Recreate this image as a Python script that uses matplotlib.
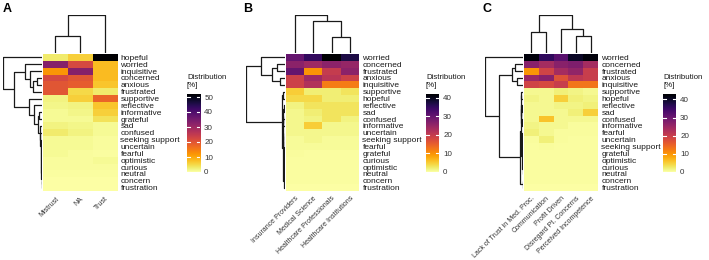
import numpy as np
import matplotlib
matplotlib.use("Agg")
import matplotlib.pyplot as plt

plt.rcParams['font.family'] = ['Liberation Sans', 'DejaVu Sans']

W, H = 709, 260

# ---------------- data ----------------
rows_A = ["hopeful", "worried", "inquisitive", "concerned", "anxious", "frustrated",
          "supportive", "reflective", "informative", "grateful", "sad", "confused",
          "seeking support", "uncertain", "fearful", "optimistic", "curious", "neutral",
          "concern", "frustration"]
cols_A = ["Mistrust", "NA", "Trust"]
vals_A = [
    [3, 6, 52], [33, 22, 8], [12, 33, 8], [22, 20, 8], [20, 19, 7], [20, 5, 3],
    [2, 6, 18], [1.5, 2, 7], [1, 1.5, 6], [1, 1, 4], [2, 1.5, 1], [3, 2, 1],
    [1, 1, 0.5], [1, 1, 0.5], [1, 0.5, 0.3], [0.5, 0.5, 1], [0.5, 0.5, 0.5],
    [0.3, 0.3, 0.3], [0.2, 0.2, 0.2], [0.2, 0.2, 0.1]]

rows_B = ["worried", "concerned", "frustrated", "anxious", "inquisitive", "supportive",
          "hopeful", "reflective", "sad", "confused", "informative", "uncertain",
          "seeking support", "fearful", "grateful", "curious", "optimistic", "neutral",
          "concern", "frustration"]
cols_B = ["Insurance Providers", "Medical Science", "Healthcare Professionals",
          "Healthcare Institutions"]
vals_B = [
    [30, 35, 42, 37], [26, 24, 26, 25], [30, 10, 20, 26], [19, 24, 21, 19],
    [19, 22, 12, 12], [5, 2, 2, 3], [4, 4, 2, 2], [1.5, 3, 3, 3], [1, 2, 3, 3],
    [1, 1.5, 3, 1.5], [1, 5, 1, 1], [1, 1, 1, 1], [0.5, 1, 0.5, 0.5],
    [0.5, 0.5, 0.5, 0.5], [0.4, 0.3, 0.3, 0.3], [0.3, 0.3, 0.3, 0.3],
    [0.3, 0.3, 0.3, 0.3], [0.2, 0.2, 0.2, 0.2], [0.2, 0.2, 0.2, 0.2], [0.1, 0.1, 0.1, 0.1]]

rows_C = ["worried", "concerned", "frustrated", "anxious", "inquisitive", "supportive",
          "hopeful", "reflective", "sad", "confused", "informative", "fearful",
          "uncertain", "seeking support", "grateful", "optimistic", "curious", "neutral",
          "concern", "frustration"]
cols_C = ["Lack of Trust in Med. Proc.", "Communication", "Profit Driven",
          "Disregard Pt. Concerns", "Perceived Incompetence"]
vals_C = [
    [42, 36, 32, 40, 42], [27, 24, 27, 28, 24], [10, 19, 24, 26, 20],
    [25, 27, 17, 21, 20], [19, 18, 20, 13, 13], [1, 1, 2, 1.5, 1],
    [1.5, 1, 5, 2, 1.5], [1, 1, 1.5, 1.5, 2], [1, 1, 1, 2, 5], [1, 6, 1, 1, 1],
    [1.5, 1, 1, 0.5, 0.5], [2, 1, 0.5, 0.5, 0.5], [0.5, 2, 0.5, 0.3, 0.3],
    [0.3, 0.5, 0.3, 0.3, 0.3], [0.3, 0.3, 0.3, 0.3, 0.3], [0.3, 0.3, 0.3, 0.3, 0.3],
    [0.2, 0.2, 0.2, 0.2, 0.2], [0.2, 0.2, 0.2, 0.2, 0.2], [0.2, 0.2, 0.2, 0.2, 0.2],
    [0.1, 0.1, 0.1, 0.1, 0.1]]

# dendrogram trees: leaf = index, node = (left, right, height)
coltree_A = ((0, 1, 0.44), 2, 1.0)
coltree_B = (0, (1, (2, 3, 0.41), 0.85), 1.0)
coltree_C = ((0, 1, 0.54), (2, (3, 4, 0.44), 0.62), 1.0)

_lowA = (10, (11, (12, (13, (14, (15, (16, (17, (18, 19, 0.005), 0.01), 0.015), 0.02),
        0.025), 0.03), 0.035), 0.04), 0.05)
rowtree_A = (0, ((1, (2, ((3, 4, 0.13), 5, 0.23), 0.31), 0.44),
                 (6, (7, ((8, 9, 0.08), _lowA, 0.1), 0.2), 0.33), 0.72), 1.0)

_lowB = ((((((((11, 12, 0.004), 13, 0.008), 14, 0.012), 15, 0.016), 16, 0.02),
          17, 0.024), 18, 0.028), 19, 0.032)
rowtree_B = ((0, ((1, 2, 0.2), (3, 4, 0.13), 0.33), 0.62),
             ((5, 6, 0.05), (((7, 8, 0.03), (9, 10, 0.04), 0.05), _lowB, 0.06), 0.08), 1.0)

_g1C = ((5, 6, 0.04), ((7, 8, 0.03), (9, 10, 0.035), 0.045), 0.055)
_g2C = (((11, 12, 0.02), (13, 14, 0.01), 0.025), ((15, 16, 0.006), 17, 0.008), 0.03)
rowtree_C = (0, (((1, 2, 0.2), (3, 4, 0.16), 0.29),
                 ((_g1C, _g2C, 0.065), (18, 19, 0.004), 0.08), 0.63), 1.0)

vmax_A, vmax_B, vmax_C = 52, 42, 43
ticks_A = [0, 10, 20, 30, 40, 50]
ticks_B = [0, 10, 20, 30, 40]
ticks_C = [0, 10, 20, 30, 40]

# ---------------- drawing ----------------
fig = plt.figure(figsize=(W / 100, H / 100), dpi=100)
cmap = plt.get_cmap('inferno_r')
LC = '#1a1a1a'
TXT = '#1a1a1a'


def px(x0, y0, x1, y1):
    return [x0 / W, 1 - y1 / H, (x1 - x0) / W, (y1 - y0) / H]


def walk(node, segs):
    if isinstance(node, int):
        return node + 0.5, 0.0
    l, r, h = node
    pl, hl = walk(l, segs)
    pr, hr = walk(r, segs)
    segs.append(([pl, pl, pr, pr], [hl, h, h, hr]))
    return (pl + pr) / 2, h


def dendro(ax, tree, n, orient):
    segs = []
    walk(tree, segs)
    for p, h in segs:
        if orient == 'top':
            ax.plot(p, h, color=LC, lw=0.9, solid_capstyle='butt')
        else:
            ax.plot(h, p, color=LC, lw=0.9, solid_capstyle='butt')
    if orient == 'top':
        ax.set_xlim(0, n)
        ax.set_ylim(0, 1.0)
    else:
        ax.set_ylim(n, 0)
        ax.set_xlim(1.0, 0)
    ax.axis('off')


def panel(letter, rows, cols, vals, rtree, ctree, vmax, ticks, hx0, hx1, lx0, cbx, lab_x):
    y0, y1 = 54, 191
    data = np.array(vals, dtype=float)
    nr, nc = data.shape
    ax = fig.add_axes(px(hx0, y0, hx1, y1))
    ax.imshow(data, cmap=cmap, vmin=0, vmax=vmax, aspect='auto',
              interpolation='nearest', extent=(0, nc, nr, 0))
    for s in ax.spines.values():
        s.set_visible(False)
    ax.set_yticks(np.arange(nr) + 0.5)
    ax.set_yticklabels(rows, fontsize=6.0, color=TXT)
    ax.yaxis.tick_right()
    ax.tick_params(axis='y', length=0, pad=2.5)
    ax.set_xticks(np.arange(nc) + 0.5)
    ax.set_xticklabels(cols, fontsize=5.0, color='#333333', rotation=45,
                       ha='right', va='top', rotation_mode='anchor')
    ax.tick_params(axis='x', length=0, pad=3)

    axt = fig.add_axes(px(hx0, 15, hx1, 52.5))
    dendro(axt, ctree, nc, 'top')
    axl = fig.add_axes(px(lx0, y0, hx0 - 1, y1))
    dendro(axl, rtree, nr, 'left')

    # colorbar
    cb0, cb1 = cbx, cbx + 13
    axc = fig.add_axes(px(cb0, 94, cb1, 172))
    grad = np.linspace(0, vmax, 256).reshape(-1, 1)
    axc.imshow(grad, cmap=cmap, vmin=0, vmax=vmax, aspect='auto', origin='lower',
               extent=(0, 1, 0, vmax), interpolation='bilinear')
    axc.set_xlim(0, 1)
    axc.set_ylim(0, vmax)
    for t in ticks:
        axc.plot([0, 0.2], [t, t], color='white', lw=0.8)
        axc.plot([0.8, 1], [t, t], color='white', lw=0.8)
    axc.set_xticks([])
    axc.set_yticks(ticks)
    axc.set_yticklabels([str(t) for t in ticks], fontsize=5.8, color='#333333')
    axc.yaxis.tick_right()
    axc.tick_params(axis='y', length=0, pad=3)
    for s in axc.spines.values():
        s.set_visible(False)
    fig.text(cb0 / W, 1 - 89 / H, "Distribution\n[%]", fontsize=5.7, color=TXT,
             ha='left', va='bottom', linespacing=1.25)
    fig.text(lab_x / W, 1 - 3 / H, letter, fontsize=9, fontweight='bold',
             ha='left', va='top')


panel("A", rows_A, cols_A, vals_A, rowtree_A, coltree_A, vmax_A, ticks_A,
      43, 117, 3, 187, 3)
panel("B", rows_B, cols_B, vals_B, rowtree_B, coltree_B, vmax_B, ticks_B,
      286, 359, 246, 426, 243)
panel("C", rows_C, cols_C, vals_C, rowtree_C, coltree_C, vmax_C, ticks_C,
      524, 598, 485, 663, 482)

fig.savefig("out.png", dpi=100)
